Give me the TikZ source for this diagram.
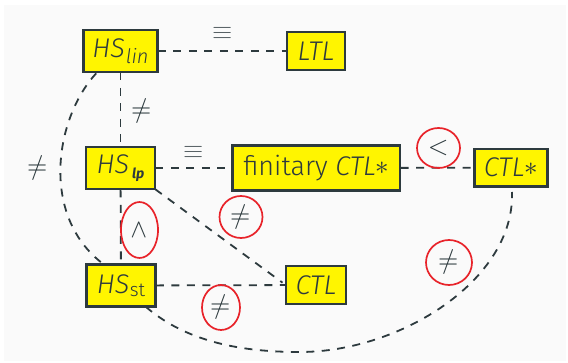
\documentclass[tikz,border=0pt]{standalone}
\usepackage{fontspec}
\usepackage{unicode-math}
\setmainfont{Fira Sans Light}
\newfontfamily\firaregular{Fira Sans}
\setmathfont{Latin Modern Math}
\usetikzlibrary{calc,shapes.geometric}

\definecolor{ink}{RGB}{45,58,62}
\definecolor{boxfill}{RGB}{255,245,0}
\definecolor{mark}{RGB}{232,35,42}
\definecolor{paper}{RGB}{250,250,250}

% HS with a lowered subscript
\newcommand{\hsname}[3]{\textit{HS}\kern#3\raisebox{#2}{#1}}

\tikzset{
  logic/.style={draw=ink, line width=1.6pt, fill=boxfill, text=ink,
    inner sep=0pt, font=\fontsize{27}{30}\selectfont},
  rel/.style={draw=ink, line width=1.8pt, dash pattern=on 8pt off 7.5pt},
  sym/.style={text=ink, inner sep=0pt, font=\fontsize{26}{28}\selectfont},
  ring/.style={sym, ellipse, draw=mark, line width=1.7pt}
}

\begin{document}
\begin{tikzpicture}[x=1pt, y=-1pt]
  \useasboundingbox (0,0) rectangle (568,363);
  \fill[paper] (4,5) rectangle (566,361);

  % logics
  \node[logic, minimum width=73pt, minimum height=41pt] (hslin) at (120.5,51)
    {\hsname{\fontsize{20}{20}\selectfont\textit{lin}}{-5.5pt}{1pt}};
  \node[logic, minimum width=57pt, minimum height=37pt] (ltl) at (316,51) {\textit{LTL}};
  \node[logic, minimum width=68pt, minimum height=41pt] (hslp) at (120.5,168)
    {\hsname{\fontsize{14}{14}\selectfont\firaregular\bfseries\itshape lp}{-5pt}{3pt}};
  \node[logic, minimum width=167pt, minimum height=44pt] (fin) at (316.3,168)
    {finitary \textit{CTL}\raisebox{1pt}{$\ast$}};
  \node[logic, minimum width=72pt, minimum height=37pt] (ctls) at (511,167.7)
    {\textit{CTL}\raisebox{1pt}{$\ast$}};
  \node[logic, minimum width=68pt, minimum height=41pt] (hsst) at (121,285.5)
    {\hsname{\fontsize{19}{19}\selectfont st}{-3.5pt}{0.5pt}};
  \node[logic, minimum width=59pt, minimum height=37pt] (ctl) at (316,285) {\textit{CTL}};

  % relations between the logics
  \draw[rel] (hslin) -- (ltl);
  \draw[rel] (hslin) -- (hslp);
  \draw[rel] (hslp) -- (fin);
  \draw[rel] (fin) -- (ctls);
  \draw[rel] (hslp) -- (hsst);
  \draw[rel] (hsst) -- (ctl);
  \draw[rel, shorten >=4pt] (hslp.south east) -- (ctl.west);
  \draw[rel] ($(hslin.south west)+(13,1)$)
    .. controls (55,118) and (40,215) .. ($(hsst.north west)+(16,-1)$);
  \draw[rel] ($(hsst.south east)+(-10,0)$)
    .. controls (190,345) and (250,352) .. (300,352)
    .. controls (400,352) and (515,280) .. ($(ctls.south)+(1,5)$);

  % redraw the boxes on top of the connectors
  \foreach \n in {hslin,ltl,hslp,fin,ctls,hsst,ctl} {
    \draw[ink, line width=1.6pt] (\n.north west) rectangle (\n.south east);
  }

  % relation labels
  \node[sym, text=ink!80] (eqa) at (222.5,33.5) {$\equiv$};
  \node[sym, text=ink!80] (eqb) at (194,152) {$\equiv$};
  \node[sym] (nea) at (142,111) {$\neq$};
  \node[sym] (neb) at (38,168) {$\neq$};
  \node[ring, minimum width=43pt, minimum height=40pt] (lt) at (438.5,148) {$<$};
  \node[ring, minimum width=37pt, minimum height=56pt] (wg) at (139.5,230) {$\wedge$};
  \node[ring, minimum width=43pt, minimum height=42pt] (nec) at (241,217) {$\neq$};
  \node[ring, minimum width=38pt, minimum height=45pt] (ned) at (221,307.5) {$\neq$};
  \node[ring, minimum width=46pt, minimum height=45pt] (nee) at (449,262.5) {$\neq$};
\end{tikzpicture}
\end{document}
